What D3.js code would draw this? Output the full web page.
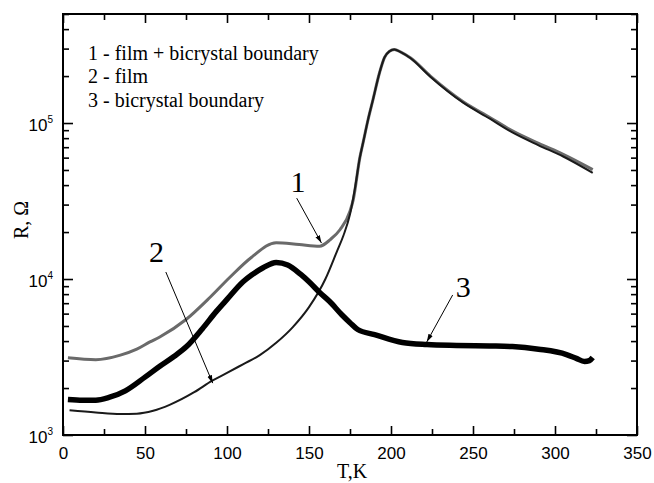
<!DOCTYPE html>
<html>
<head>
<meta charset="utf-8">
<script src="https://cdn.jsdelivr.net/npm/d3@7"></script>
<style>
  body { margin: 0; background: #fff; }
  text { fill: #000; }
</style>
</head>
<body>
<div id="chart"></div>
<script>
var margin = {left: 63, top: 14, right: 17, bottom: 48},
    width = 654 - margin.left - margin.right,
    height = 483 - margin.top - margin.bottom;

// curve 1 - film + bicrystal boundary (grey)
var t1 = [3, 20, 35, 45, 53, 59, 75, 90, 101.6, 115, 130, 144, 156.5, 163, 169, 175, 177, 181, 183, 186, 189, 193, 196, 199, 202, 206, 212, 224, 244, 260, 274, 290, 305, 323];
var r1 = [3125, 3040, 3250, 3550, 3950, 4250, 5500, 7700, 10230, 13800, 17100, 16640, 16250, 17900, 20770, 27200, 32300, 60000, 75000, 105000, 141000, 210000, 263000, 288000, 296000, 285000, 261000, 200000, 137000, 109000, 89000, 74000, 63000, 50300];

// curve 2 - film (thin black)
var t2 = [4, 20, 35, 45, 55, 65, 80, 91, 100, 110, 120, 130, 140, 150, 160, 167, 171, 175, 178, 181, 183, 186, 189, 193, 196, 199, 202, 206, 212, 224, 244, 260, 274, 290, 305, 323];
var r2 = [1440, 1395, 1365, 1370, 1430, 1560, 1880, 2230, 2500, 2850, 3250, 3900, 4900, 6600, 10000, 15000, 19000, 26000, 38000, 60000, 75000, 105000, 141000, 210000, 263000, 288000, 296000, 285000, 260000, 198000, 135000, 107000, 87000, 72000, 61000, 47900];

// curve 3 - bicrystal boundary (thick black)
var t3 = [3, 12, 20, 28, 38, 50, 59, 67, 75.5, 85, 93.5, 100, 109.8, 115, 122, 130, 137, 145, 150, 156.5, 162.6, 170, 175, 179.7, 190, 207, 222, 240, 260, 274, 290, 307, 313, 318, 321, 323];
var r3 = [1690, 1670, 1670, 1740, 1920, 2350, 2760, 3150, 3700, 4800, 6200, 7400, 9600, 10600, 11800, 12760, 12300, 10700, 9600, 8190, 7170, 5900, 5250, 4745, 4400, 3917, 3800, 3750, 3720, 3690, 3550, 3280, 3100, 2960, 3000, 3140];

var xMajor = [0, 50, 100, 150, 200, 250, 300, 350],
    xMinor = [25, 75, 125, 175, 225, 275, 325],
    yMajor = [1e3, 1e4, 1e5],
    yMajorExp = ["3", "4", "5"];

var legendLines = ["1 - film + bicrystal boundary", "2 - film", "3 - bicrystal boundary"];

var x = d3.scaleLinear().domain([0, 350]).range([0, width]);
var y = d3.scaleLog().domain([1e3, 5e5]).range([height, 0]);

var yMinor = [];
[1e3, 1e4, 1e5].forEach(function(d) {
  for (var k = 2; k <= 9; k++) if (d * k <= 5e5) yMinor.push(d * k);
});

var svg = d3.select("#chart").append("svg")
    .attr("width", 654)
    .attr("height", 483)
  .append("g")
    .attr("transform", "translate(" + margin.left + "," + margin.top + ")");

//////////////////// axes ////////////////////
var tickFont = "'Liberation Sans', Arial, sans-serif",
    serif = "'Liberation Serif', 'Times New Roman', serif";

function styleAxis(g) {
  g.select(".domain").remove();
  g.selectAll(".tick line").attr("stroke", "#000").attr("stroke-width", 1.6);
}

// bottom
svg.append("g").attr("transform", "translate(0," + height + ")")
  .call(d3.axisBottom(x).tickValues(xMajor).tickSizeInner(-9).tickSizeOuter(0).tickPadding(12))
  .call(styleAxis)
  .selectAll("text").attr("font-family", tickFont).attr("font-size", 17);
svg.append("g").attr("transform", "translate(0," + height + ")")
  .call(d3.axisBottom(x).tickValues(xMinor).tickSizeInner(-6).tickSizeOuter(0).tickFormat(""))
  .call(styleAxis);
// top
svg.append("g")
  .call(d3.axisTop(x).tickValues(xMajor).tickSizeInner(-9).tickSizeOuter(0).tickFormat(""))
  .call(styleAxis);
svg.append("g")
  .call(d3.axisTop(x).tickValues(xMinor).tickSizeInner(-6).tickSizeOuter(0).tickFormat(""))
  .call(styleAxis);

// left
var yl = svg.append("g")
  .call(d3.axisLeft(y).tickValues(yMajor).tickSizeInner(-10).tickSizeOuter(0).tickPadding(10).tickFormat(""))
  .call(styleAxis);
yl.selectAll(".tick text").each(function(d, i) {
  var t = d3.select(this)
    .attr("font-family", tickFont).attr("font-size", 17).attr("dy", "0.45em");
  t.append("tspan").text("10");
  t.append("tspan").attr("font-size", 10).attr("dy", -8).text(yMajorExp[i]);
});
svg.append("g")
  .call(d3.axisLeft(y).tickValues(yMinor).tickSizeInner(-6).tickSizeOuter(0).tickFormat(""))
  .call(styleAxis);
// right
svg.append("g").attr("transform", "translate(" + width + ",0)")
  .call(d3.axisRight(y).tickValues(yMajor).tickSizeInner(-10).tickSizeOuter(0).tickFormat(""))
  .call(styleAxis);
svg.append("g").attr("transform", "translate(" + width + ",0)")
  .call(d3.axisRight(y).tickValues(yMinor).tickSizeInner(-6).tickSizeOuter(0).tickFormat(""))
  .call(styleAxis);

// frame
svg.append("rect")
  .attr("width", width).attr("height", height)
  .attr("fill", "none").attr("stroke", "#000").attr("stroke-width", 2);

// axis titles
svg.append("text")
  .attr("x", width / 2 + 2).attr("y", height + 43)
  .attr("text-anchor", "middle")
  .attr("font-family", serif)
  .attr("font-size", 20)
  .text("T,K");
svg.append("text")
  .attr("transform", "translate(" + (-35) + "," + (206) + ") rotate(-90)")
  .attr("text-anchor", "middle")
  .attr("font-family", serif)
  .attr("font-size", 20)
  .text("R, \u03A9");

//////////////////// curves ////////////////////
var line = d3.line()
  .x(function(d) { return x(d[0]); })
  .y(function(d) { return y(d[1]); })
  .curve(d3.curveMonotoneX);

function pairs(t, r) { return t.map(function(v, i) { return [v, r[i]]; }); }

svg.append("path").datum(pairs(t1, r1))
  .attr("d", line).attr("fill", "none").attr("stroke", "#6a6a6a").attr("stroke-width", 3);
svg.append("path").datum(pairs(t2, r2))
  .attr("d", line).attr("fill", "none").attr("stroke", "#1a1a1a").attr("stroke-width", 2);
svg.append("path").datum(pairs(t3, r3))
  .attr("d", line).attr("fill", "none").attr("stroke", "#000").attr("stroke-width", 5.5);

//////////////////// legend + labels ////////////////////
svg.selectAll("text.legend")
  .data(legendLines).enter().append("text")
  .attr("class", "legend")
  .attr("x", 25)
  .attr("y", function(d, i) { return 46 + i * 23.4; })
  .attr("font-family", serif)
  .attr("font-size", 20)
  .text(function(d) { return d; });

svg.append("defs").append("marker")
  .attr("id", "arr").attr("viewBox", "0 0 10 10")
  .attr("refX", 10).attr("refY", 5)
  .attr("markerWidth", 8).attr("markerHeight", 8)
  .attr("orient", "auto")
  .append("path").attr("d", "M0,2 L10,5 L0,8 Z").attr("fill", "#000");

// label text position and arrow start/end, in data units
var labels = [
  {name: "1", tx: 143.3, tr: 36100, a: [142.5, 33000], b: [157.6, 17000]},
  {name: "2", tx: 57, tr: 12860, a: [62.7, 11090], b: [91.3, 2150]},
  {name: "3", tx: 244, tr: 7670, a: [237.6, 7900], b: [221.8, 3950]}
];
labels.forEach(function(l) {
  svg.append("text")
    .attr("x", x(l.tx)).attr("y", y(l.tr))
    .attr("text-anchor", "middle")
    .attr("font-family", serif)
    .attr("font-size", 30)
    .text(l.name);
  svg.append("line")
    .attr("x1", x(l.a[0])).attr("y1", y(l.a[1]))
    .attr("x2", x(l.b[0])).attr("y2", y(l.b[1]))
    .attr("stroke", "#000").attr("stroke-width", 1)
    .attr("marker-end", "url(#arr)");
});
</script>
</body>
</html>
